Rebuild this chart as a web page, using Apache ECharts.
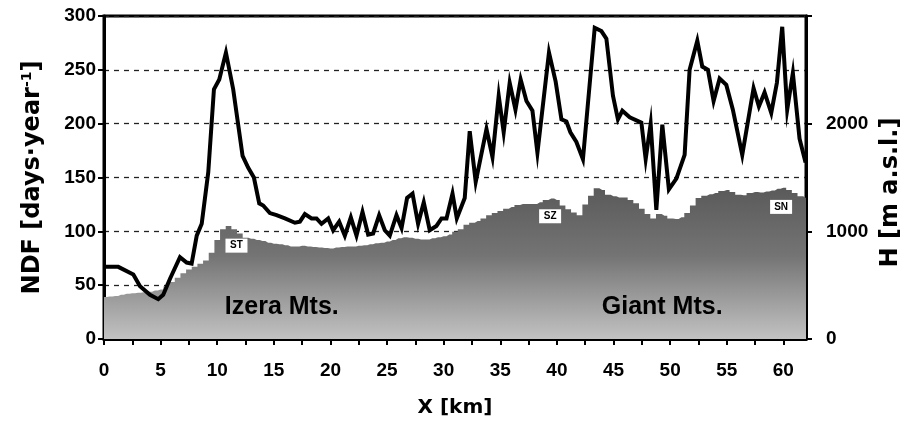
<!DOCTYPE html>
<html>
<head>
<meta charset="utf-8">
<style>
    html, body { margin: 0; padding: 0; background: #fff; }
    #chart { width: 914px; height: 423px; }
</style>
<script src="https://cdn.jsdelivr.net/npm/echarts@6/dist/echarts.min.js"></script>
</head>
<body>
<div id="chart"></div>
<script>
    // NDF profile along the transect: distance [km] and NDF [days/year]
    const ndfKm = [0, 1.26, 2.59, 3.18, 4.06, 4.79, 5.23, 5.83, 6.71, 7.30, 7.74, 8.19, 8.63, 9.21, 9.71,
        10.18, 10.77, 11.41, 12.24, 12.74, 13.24, 13.71, 14.06, 14.65, 15.24, 15.98, 16.86, 17.30, 17.74,
        18.33, 18.77, 19.21, 19.80, 20.24, 20.77, 21.27, 21.80, 22.30, 22.83, 23.33, 23.77, 24.30, 24.80,
        25.24, 25.83, 26.28, 26.77, 27.25, 27.74, 28.24, 28.77, 29.36, 29.81, 30.25, 30.78, 31.16, 31.86,
        32.30, 32.83, 33.78, 34.31, 34.86, 35.30, 35.83, 36.34, 36.80, 37.31, 37.84, 38.28, 39.30, 39.89,
        40.40, 40.84, 41.19, 41.72, 42.30, 43.34, 43.93, 44.37, 44.95, 45.39, 45.78, 46.43, 47.46, 47.84,
        48.28, 48.78, 49.31, 49.89, 50.55, 51.28, 51.72, 52.40, 52.84, 53.34, 53.84, 54.37, 54.96, 55.54,
        56.37, 57.37, 57.84, 58.34, 58.93, 59.43, 59.90, 60.34, 60.84, 61.43, 61.96];
    const ndfValues = [67, 67, 60, 49, 41, 37, 41, 56, 76, 71, 70, 96, 107, 155, 232,
        241, 266, 232, 170, 159, 150, 126, 124, 117, 115, 112, 108, 109, 116,
        112, 112, 107, 112, 101, 109, 96, 113, 96, 118, 97, 98, 115, 101,
        96, 115, 103, 131, 135, 107, 127, 101, 105, 112, 112, 135, 112, 131,
        193, 146, 195, 169, 226, 192, 238, 213, 241, 221, 212, 173, 266, 239,
        204, 202, 192, 183, 167, 289, 286, 279, 226, 204, 212, 206, 201, 167,
        200, 120, 199, 139, 149, 171, 250, 277, 253, 250, 221, 242, 236, 213,
        171, 233, 216, 229, 210, 238, 290, 213, 247, 186, 164];

    // terrain elevation H [m a.s.l.], one value every 0.5 km from 0 to 62 km
    const elevStepKm = 0.5;
    const elevation = [390, 395, 400, 410, 420, 425, 430, 435, 440, 450,
        460, 490, 530, 570, 610, 645, 670, 700, 730, 800,
        920, 1020, 1050, 1020, 980, 940, 930, 920, 910, 895,
        885, 880, 870, 860, 860, 865, 860, 855, 850, 845,
        840, 850, 855, 860, 860, 865, 870, 880, 890, 895,
        905, 920, 935, 945, 940, 930, 925, 925, 935, 945,
        955, 970, 995, 1020, 1060, 1080, 1095, 1120, 1150, 1170,
        1190, 1210, 1225, 1245, 1255, 1255, 1255, 1270, 1290, 1305,
        1290, 1240, 1205, 1175, 1150, 1250, 1330, 1400, 1385, 1340,
        1325, 1315, 1315, 1290, 1260, 1210, 1160, 1120, 1160, 1145,
        1120, 1115, 1130, 1170, 1240, 1310, 1330, 1345, 1355, 1375,
        1385, 1365, 1340, 1335, 1355, 1365, 1360, 1370, 1380, 1395,
        1405, 1385, 1355, 1325, 1310];

    // summit labels (km, m a.s.l.)
    const peakNames = ['ST', 'SZ', 'SN'];
    const peakKm = [11.7, 39.4, 59.8];
    const peakH = [867, 1140, 1227];

    // range names (km, m a.s.l.)
    const rangeNames = ['Izera Mts.', 'Giant Mts.'];
    const rangeKm = [15.7, 49.3];
    const rangeH = [295, 295];

    const xTicks = { min: 0, max: 62, step: 2.5, labelEvery: 5 };
    const ndfTicks = { min: 0, max: 300, step: 50 };
    const hTicks = { min: 0, max: 3000, step: 1000, shown: [0, 1000, 2000] };

    const font = '"Liberation Sans", Arial, sans-serif';
    const nameFont = '"DejaVu Sans", Verdana, sans-serif';
    const boldText = { color: '#000', fontFamily: font, fontWeight: 'bold' };
    const nameText = { color: '#000', fontFamily: nameFont, fontWeight: 'bold' };

    const ndfData = ndfKm.map((km, i) => [km, ndfValues[i]]);
    const elevData = elevation.map((h, i) => [i * elevStepKm, h]);

    const markData = [];
    peakNames.forEach((name, i) => {
        markData.push({
            name: name,
            coord: [peakKm[i], peakH[i]],
            symbol: 'rect',
            symbolSize: [22, 14],
            itemStyle: { color: '#fff' },
            label: Object.assign({ show: true, position: 'inside', formatter: name, fontSize: 10 }, boldText)
        });
    });
    rangeNames.forEach((name, i) => {
        markData.push({
            name: name,
            coord: [rangeKm[i], rangeH[i]],
            symbol: 'rect',
            symbolSize: 1,
            itemStyle: { color: 'rgba(0,0,0,0)' },
            label: Object.assign({ show: true, position: 'inside', formatter: name, fontSize: 25 }, boldText)
        });
    });

    const myChart = echarts.init(document.getElementById('chart'), null, { renderer: 'canvas' });

    const option = {
        animation: false,
        backgroundColor: '#fff',
        grid: {
            left: 104,
            right: 108,
            top: 16,
            bottom: 82,
            show: true,
            borderColor: '#000',
            borderWidth: 3,
            backgroundColor: 'transparent'
        },
        xAxis: {
            type: 'value',
            min: xTicks.min,
            max: xTicks.max,
            interval: xTicks.step,
            name: 'X [km]',
            nameLocation: 'middle',
            nameGap: 59,
            nameTextStyle: Object.assign({ fontSize: 20 }, nameText),
            axisLine: { show: true, lineStyle: { color: '#000', width: 3 } },
            axisTick: { show: true, inside: false, length: 6, lineStyle: { color: '#000', width: 2 } },
            axisLabel: Object.assign({
                fontSize: 19,
                margin: 22,
                showMaxLabel: false,
                formatter: (v) => (v % xTicks.labelEvery === 0 ? String(v) : '')
            }, boldText),
            splitLine: { show: false }
        },
        yAxis: [{
            type: 'value',
            min: ndfTicks.min,
            max: ndfTicks.max,
            interval: ndfTicks.step,
            position: 'left',
            name: '{t|NDF [days·year}{s|-1}{t|]}',
            nameLocation: 'middle',
            nameRotate: 90,
            nameGap: 58,
            nameTextStyle: {
                rich: {
                    t: Object.assign({ fontSize: 24 }, nameText),
                    s: Object.assign({ fontSize: 14, padding: [0, 0, 12, 0] }, nameText)
                }
            },
            axisLine: { show: true, lineStyle: { color: '#000', width: 3 } },
            axisTick: { show: true, length: 6, lineStyle: { color: '#000', width: 2 } },
            axisLabel: Object.assign({ fontSize: 19, margin: 8 }, boldText),
            splitLine: { show: true, lineStyle: { color: '#222', width: 1.3, type: [5, 5] } }
        }, {
            type: 'value',
            min: hTicks.min,
            max: hTicks.max,
            interval: hTicks.step,
            position: 'right',
            name: 'H [m a.s.l.]',
            nameLocation: 'middle',
            nameRotate: 90,
            nameGap: 64,
            nameTextStyle: Object.assign({ fontSize: 24, padding: [0, 30, 0, 0] }, nameText),
            axisLine: { show: true, lineStyle: { color: '#000', width: 3 } },
            axisTick: { show: true, length: 6, lineStyle: { color: '#000', width: 2 } },
            axisLabel: Object.assign({
                fontSize: 19,
                margin: 20,
                formatter: (v) => (hTicks.shown.indexOf(v) >= 0 ? String(v) : '')
            }, boldText),
            splitLine: { show: false }
        }],
        series: [{
            name: 'H',
            type: 'line',
            yAxisIndex: 1,
            step: 'middle',
            data: elevData,
            symbol: 'none',
            silent: true,
            lineStyle: { width: 0 },
            areaStyle: {
                opacity: 1,
                color: new echarts.graphic.LinearGradient(0, 0, 0, 1, [
                    { offset: 0, color: '#5a5a5a' },
                    { offset: 0.45, color: '#747474' },
                    { offset: 1, color: '#c2c2c2' }
                ])
            },
            markPoint: { silent: true, data: markData },
            z: 1
        }, {
            name: 'NDF',
            type: 'line',
            yAxisIndex: 0,
            data: ndfData,
            symbol: 'none',
            lineStyle: { color: '#000', width: 4, join: 'miter' },
            z: 3
        }]
    };

    myChart.setOption(option);
</script>
</body>
</html>
